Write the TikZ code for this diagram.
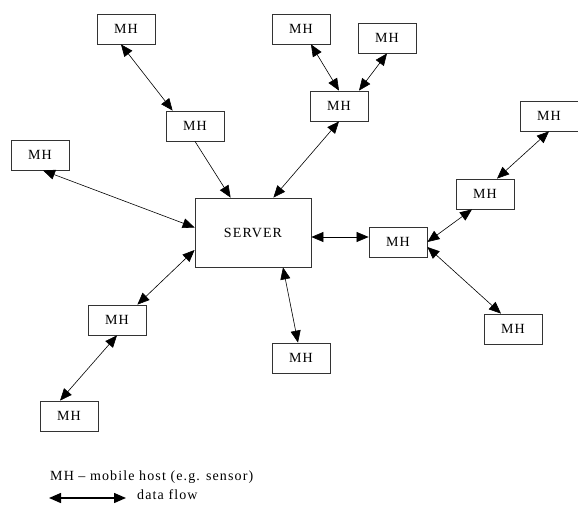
\documentclass[tikz,border=0pt]{standalone}
\usepackage{fontspec}
\setmainfont{Liberation Serif}[LetterSpace=8]
\usetikzlibrary{arrows.meta}
\begin{document}
\begin{tikzpicture}[x=1pt, y=-1pt, font=\fontsize{14}{16}\selectfont,
  mh/.style={draw=black!80, line width=0.8pt, minimum width=58pt, minimum height=30pt, inner sep=0pt},
  srv/.style={mh, minimum width=116pt, minimum height=69pt},
  flow/.style={{Triangle[length=12pt,width=10pt]}-{Triangle[length=12pt,width=10pt]}, line width=0.6pt},
  oneway/.style={-{Triangle[length=12pt,width=10pt]}, line width=0.6pt}]
\useasboundingbox (0,0) rectangle (578,505);
% hosts and server
\node[srv] (srv) at (253,232.5) {SERVER};
\node[mh] (mhA) at (126,29) {MH};
\node[mh] (mhB) at (195,126) {MH};
\node[mh] (mhC) at (301,29) {MH};
\node[mh] (mhD) at (387,38) {MH};
\node[mh] (mhE) at (339,106) {MH};
\node[mh] (mhF) at (40,155) {MH};
\node[mh] (mhG) at (398,242) {MH};
\node[mh] (mhH) at (485,194) {MH};
\node[mh] (mhI) at (549,116) {MH};
\node[mh] (mhJ) at (513,329) {MH};
\node[mh] (mhK) at (301,358) {MH};
\node[mh] (mhL) at (117,320) {MH};
\node[mh] (mhM) at (69,416) {MH};
% data flows
\draw[flow] ([xshift=-5pt]mhA.south) -- ([xshift=7pt]mhB.north west);
\draw[oneway] (mhB.south) -- ([xshift=36pt]srv.north west);
\draw[flow] (mhE.south) -- ([xshift=-38pt]srv.north east);
\draw[flow] ([xshift=10pt]mhC.south) -- (mhE.north);
\draw[flow] (mhD.south) -- ([xshift=20pt]mhE.north);
\draw[flow] ([xshift=3pt]mhF.south) -- ([yshift=5pt]srv.west);
\draw[flow] ([xshift=-9pt]mhL.north east) -- ([yshift=-17.5pt]srv.west);
\draw[flow] (mhL.south) -- ([xshift=-9pt]mhM.north);
\draw[flow] ([xshift=30pt]srv.south) -- ([xshift=-3pt]mhK.north);
\draw[flow] ([yshift=-4.5pt]srv.east) -- ([yshift=5pt]mhG.west);
\draw[flow] (mhG.east) -- ([xshift=-13pt]mhH.south);
\draw[flow] ([yshift=-5pt]mhG.east) -- ([xshift=-12pt]mhJ.north);
\draw[flow] ([xshift=12pt]mhH.north) -- (mhI.south);
% legend
\node[anchor=base west, inner sep=0pt] (lgtext) at (50,480) {MH -- mobile host (e.g. sensor)};
\coordinate (lgA) at (49,498);
\coordinate (lgB) at (126,498);
\draw[{Triangle[length=12pt,width=10pt]}-{Triangle[length=12pt,width=10pt]}, line width=1.4pt] (lgA) -- (lgB);
\node[anchor=base west, inner sep=0pt] (lgflow) at (137,499) {data flow};
\end{tikzpicture}
\end{document}
